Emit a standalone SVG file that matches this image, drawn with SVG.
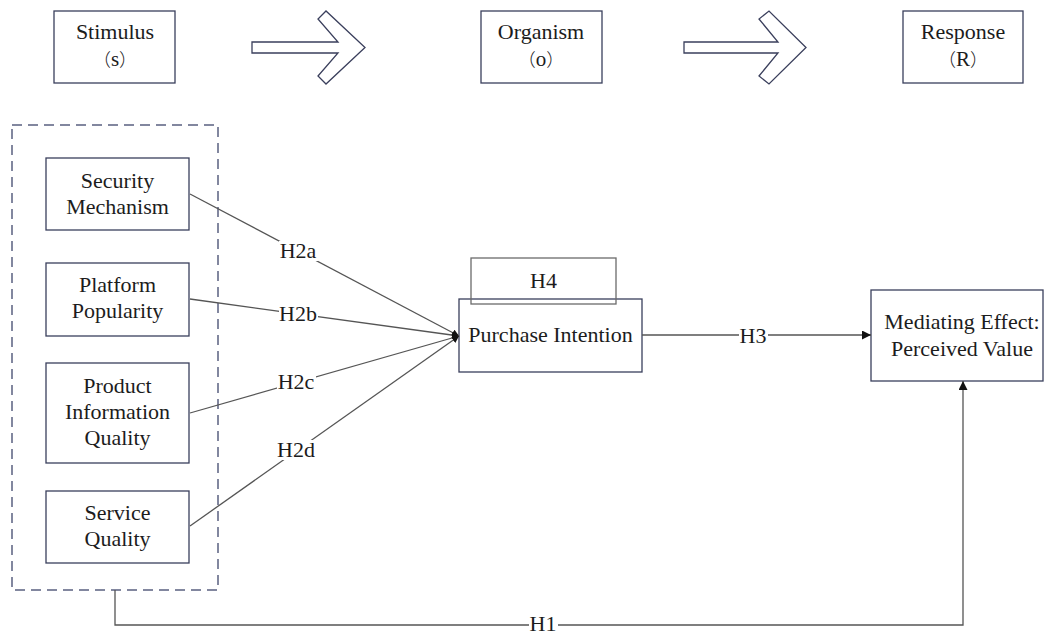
<svg xmlns="http://www.w3.org/2000/svg" width="1044" height="634" viewBox="0 0 1044 634">
<style>
.box{fill:#fff;stroke:#3a3f5c;stroke-width:1.3}
.gbox{fill:none;stroke:#6b6b6b;stroke-width:1.3}
.t{font-family:"Liberation Serif","Times New Roman",serif;font-size:22px;fill:#1c1c1c;text-anchor:middle}
.p{font-family:"Liberation Serif","Noto Sans CJK SC",serif;font-size:21px;fill:#1c1c1c;text-anchor:middle}
.cj{font-family:"Noto Sans CJK SC","Liberation Serif",sans-serif;font-weight:300;font-size:18px}
.ln{fill:none;stroke:#555;stroke-width:1.3}
.bg{fill:#fff}
.big{fill:#fff;stroke:#3a3f5c;stroke-width:1.3;stroke-linejoin:miter}
</style>
<defs>
<marker id="ah" viewBox="0 0 10 10" refX="10" refY="5" markerWidth="7" markerHeight="7" markerUnits="userSpaceOnUse" orient="auto">
<path d="M0,0 L10,5 L0,10 z" fill="#111"/>
</marker>
<marker id="ah2" viewBox="0 0 10 10" refX="10" refY="5" markerWidth="9" markerHeight="9" markerUnits="userSpaceOnUse" orient="auto">
<path d="M0,0 L10,5 L0,10 z" fill="#111"/>
</marker>
</defs>

<g id="stimulus"><rect class="box" x="54" y="11" width="121" height="72"/><text class="t" x="115" y="39">Stimulus</text><text class="p" x="115" y="66"><tspan class="cj">（</tspan>s<tspan class="cj">）</tspan></text></g>
<g id="arrow1"><polygon class="big" points="252,42 338,42 318,19 326,11 365,47.5 326,84 318,76 338,53 252,53"/></g>
<g id="organism"><rect class="box" x="481" y="11" width="121" height="72"/><text class="t" x="541" y="39">Organism</text><text class="p" x="541" y="66"><tspan class="cj">（</tspan>o<tspan class="cj">）</tspan></text></g>
<g id="arrow2"><polygon class="big" points="684,42 778,42 759,19 769,11 806,47.5 769,84 759,76 778,53 684,53"/></g>
<g id="response"><rect class="box" x="903" y="11" width="120" height="72"/><text class="t" x="963" y="39">Response</text><text class="p" x="963" y="66"><tspan class="cj">（</tspan>R<tspan class="cj">）</tspan></text></g>

<g id="stimulus-group"><rect x="12" y="125" width="206" height="465" fill="none" stroke="#5a6080" stroke-width="1.5" stroke-dasharray="10,6"/></g>

<g id="security"><rect class="box" x="46" y="158" width="143" height="72"/><text class="t" x="117.5" y="188">Security</text><text class="t" x="117.5" y="214">Mechanism</text></g>
<g id="platform"><rect class="box" x="46" y="263" width="143" height="73"/><text class="t" x="117.5" y="292">Platform</text><text class="t" x="117.5" y="318">Popularity</text></g>
<g id="product"><rect class="box" x="46" y="363" width="143" height="100"/><text class="t" x="117.5" y="393">Product</text><text class="t" x="117.5" y="419">Information</text><text class="t" x="117.5" y="445">Quality</text></g>
<g id="service"><rect class="box" x="46" y="491" width="143" height="72"/><text class="t" x="117.5" y="520">Service</text><text class="t" x="117.5" y="546">Quality</text></g>

<g id="purchase"><rect class="box" x="459" y="299" width="183" height="73"/><text class="t" x="550.5" y="342">Purchase Intention</text></g>
<g id="h4"><rect class="gbox" x="471" y="258" width="145" height="46"/><text class="t" x="543.5" y="288">H4</text></g>
<g id="mediating"><rect class="box" x="871" y="290" width="172" height="91"/><text class="t" x="962" y="329">Mediating Effect:</text><text class="t" x="962" y="356">Perceived Value</text></g>

<g id="connectors">
<line class="ln" x1="190" y1="194" x2="459" y2="336" marker-end="url(#ah)"/>
<line class="ln" x1="190" y1="299" x2="459" y2="336" marker-end="url(#ah)"/>
<line class="ln" x1="190" y1="413" x2="459" y2="336" marker-end="url(#ah)"/>
<line class="ln" x1="190" y1="526" x2="459" y2="336" marker-end="url(#ah)"/>
<line class="ln" x1="642" y1="335" x2="871" y2="335" marker-end="url(#ah2)"/>
<polyline class="ln" points="115,590 115,625 963,625 963,381" marker-end="url(#ah2)"/>
<rect class="bg" x="279" y="241" width="39" height="20"/><text class="t" x="298" y="258">H2a</text>
<rect class="bg" x="279" y="304" width="39" height="20"/><text class="t" x="298" y="321">H2b</text>
<rect class="bg" x="277" y="372" width="39" height="20"/><text class="t" x="296" y="389">H2c</text>
<rect class="bg" x="277" y="440" width="39" height="20"/><text class="t" x="296" y="457">H2d</text>
<rect class="bg" x="739" y="326" width="29" height="20"/><text class="t" x="753" y="343">H3</text>
<rect class="bg" x="529" y="616" width="29" height="18"/><text class="t" x="543" y="631" font-size="21">H1</text>
</g>
</svg>
